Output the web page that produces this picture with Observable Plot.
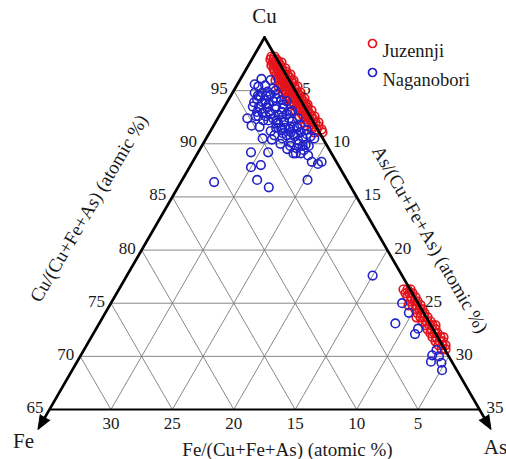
<!DOCTYPE html>
<html><head><meta charset="utf-8">
<script src="https://cdn.jsdelivr.net/npm/d3@7"></script>
<script src="https://cdn.jsdelivr.net/npm/@observablehq/plot@0.6"></script>
<style>body{margin:0;background:#fff;} svg text{font-family:'Liberation Serif','Times New Roman',serif !important;}</style>
</head><body><div id="chart"></div>
<script>
// [Cu, As] in atomic %; Fe = 100 - Cu - As
const juzennji = [
[98.21,1.46],[98.21,1.71],[97.93,1.52],[97.93,1.77],[97.93,2.01],
[97.65,1.83],[97.65,2.07],[97.65,2.32],[97.65,2.56],[97.37,1.88],[97.37,2.13],[97.37,2.37],[97.37,2.61],
[97.09,2.19],[97.09,2.51],[97.09,2.84],[97.09,3.16],[96.80,2.42],[96.80,2.74],[96.80,3.07],[96.80,3.31],
[96.52,2.71],[96.52,3.04],[96.52,3.37],[96.52,3.61],[96.52,3.85],[96.24,2.94],[96.24,3.26],[96.24,3.59],[96.24,3.91],
[95.96,2.92],[95.96,3.24],[95.96,3.57],[95.96,3.89],[95.96,4.22],[95.96,4.38],[95.68,3.46],[95.68,3.78],[95.68,4.11],[95.68,4.43],
[95.39,3.45],[95.39,3.77],[95.39,4.10],[95.39,4.42],[95.39,4.75],[95.39,4.99],[95.11,3.99],[95.11,4.32],[95.11,4.65],[95.11,4.97],
[94.83,4.05],[94.83,4.37],[94.83,4.70],[94.83,5.02],[94.83,5.27],[94.83,5.51],[94.55,4.68],[94.55,5.00],[94.55,5.33],[94.55,5.57],
[94.27,4.66],[94.27,4.98],[94.27,5.31],[94.27,5.63],[94.27,5.88],[94.27,6.12],[93.98,5.29],[93.98,5.61],[93.98,5.94],[93.98,6.18],
[93.70,5.27],[93.70,5.59],[93.70,5.92],[93.70,6.24],[93.70,6.49],[93.70,6.65],[93.42,5.90],[93.42,6.22],[93.42,6.55],[93.42,6.79],
[93.14,5.95],[93.14,6.27],[93.14,6.60],[93.14,6.93],[93.14,7.25],[92.86,6.58],[92.86,6.90],[92.86,7.23],
[92.57,6.57],[92.57,6.89],[92.57,7.22],[92.57,7.54],[92.57,7.79],[92.29,7.20],[92.29,7.52],[92.29,7.85],
[92.01,7.25],[92.01,7.57],[92.01,7.90],[92.01,8.14],[92.01,8.39],[91.63,8.17],[91.63,8.58],
[91.35,8.15],[91.35,8.56],[91.35,8.97],[91.07,8.53],[91.07,9.18],[91.73,7.47],
[76.31,23.16],[76.31,23.49],[76.31,23.73],[75.94,23.51],[75.94,23.83],[75.94,24.08],
[75.56,23.86],[75.56,24.19],[75.56,24.51],[75.18,24.30],[75.18,24.62],[75.18,24.87],
[74.81,24.32],[74.81,24.65],[74.81,24.97],[74.81,25.30],[74.43,25.07],[74.43,25.40],[74.43,25.64],
[74.06,25.42],[74.06,25.74],[74.06,25.99],[73.68,25.53],[73.68,25.86],[73.68,26.18],[73.68,26.43],
[73.30,26.21],[73.30,26.54],[73.30,26.86],[72.93,26.64],[72.93,26.96],[72.93,27.21],[72.93,27.45],
[72.55,26.99],[72.55,27.32],[72.55,27.65],[72.18,27.42],[72.18,27.75],[72.18,27.99],
[71.80,27.78],[71.80,28.10],[71.80,28.43],[71.80,28.67],[71.42,28.21],[71.42,28.54],[71.42,28.78],
[71.05,28.64],[71.05,28.97],[71.05,29.21],[70.67,29.08],[70.67,29.40]
];
const naganobori = [
[95.4,1.8],[95.5,2.3],[95.2,3.1],[94.8,1.8],[94.8,2.4],[94.6,3.2],[94.7,3.7],[94.2,2.3],[94.1,3.0],[94.0,3.7],
[94.1,4.3],[93.5,2.8],[93.4,3.5],[93.3,4.2],[93.4,4.8],[92.9,3.4],[92.8,4.1],[92.7,4.8],[92.8,5.4],[92.0,5.6],
[92.1,6.2],[91.5,5.6],[91.4,6.3],[91.5,6.9],[91.2,4.9],[90.8,6.4],[90.7,7.1],[90.6,7.8],[90.1,7.1],[90.0,7.8],
[89.9,8.4],[89.6,7.8],[89.4,8.5],[94.5,2.9],[94.5,2.4],[93.5,4.2],[93.0,3.9],[91.6,6.3],[90.3,7.6],[91.0,6.0],
[91.5,5.2],[92.2,3.8],[93.0,2.9],[93.5,2.3],[92.4,5.8],[93.0,4.9],[91.1,7.4],[89.8,8.7],[89.1,7.8],[94.0,4.8],
[93.1,5.7],[92.4,6.5],[94.9,2.8],[95.0,3.4],[93.8,3.2],[92.6,3.0],[92.5,5.2],[91.9,5.0],[91.3,5.8],[90.9,6.9],
[91.8,7.0],[91.3,7.8],[90.7,8.4],[90.9,7.2],[91.1,6.6],[91.5,5.9],[92.0,5.1],[92.4,4.5],[92.6,3.8],[92.6,3.2],
[93.7,3.5],[93.9,2.9],[94.3,3.8],[93.7,4.7],[93.0,5.6],[91.6,6.6],[89.8,8.2],[89.5,7.1],[90.0,6.3],[90.8,5.4],
[95.6,1.4],
[86.4,2.7],[85.9,7.4],[86.6,6.1],[86.6,10.2],[87.8,5.0],[88.0,5.7],[89.2,4.3],[89.2,5.7],[92.4,2.4],[91.7,3.1],
[91.6,3.8],[92.2,4.2],[96.1,1.7],[96.0,2.5],[90.5,4.6],[90.4,5.4],[90.5,6.2],[89.8,7.2],[89.1,8.0],[88.9,9.1],
[88.3,9.7],[88.1,10.3],[88.3,10.5],[90.5,8.8],[90.9,8.0],[94.5,2.2],[93.9,2.2],[92.2,4.9],[89.1,8.4],
[77.6,20.0],[75.0,23.7],[74.1,24.7],[73.1,24.1],[72.6,26.2],[72.1,26.2],[70.6,28.7],[70.1,28.6],[70.0,29.2],
[69.5,28.8],[69.4,29.7],[68.7,30.1]
];
const series = ["Juzennji", "Naganobori"];
const colors = ["#e3141c", "#2222c8"];
const cuTicks = [95, 90, 85, 80, 75, 70, 65];
const asTicks = [5, 10, 15, 20, 25, 30, 35];
const feTicks = [30, 25, 20, 15, 10, 5];
const cuGrid = [70, 75, 80, 85, 90, 95];
const asGrid = [5, 10, 15, 20, 25, 30];
const feGrid = [5, 10, 15, 20, 25, 30];
const cuMin = 65;
const span = 100 - cuMin;
const axisTitles = ["Cu/(Cu+Fe+As) (atomic %)", "As/(Cu+Fe+As) (atomic %)", "Fe/(Cu+Fe+As) (atomic %)"];
const vertexLabels = ["Cu", "Fe", "As"];

const S3 = Math.sqrt(3) / 2;
const tx = (cu, as) => as + cu / 2;
const ty = (cu) => cu * S3;

const grid = [
  ...cuGrid.map(c => ({cu1: c, as1: 0, cu2: c, as2: 100 - c})),
  ...asGrid.map(a => ({cu1: 100 - a, as1: a, cu2: cuMin, as2: a})),
  ...feGrid.map(f => ({cu1: 100 - f, as1: 0, cu2: cuMin, as2: span - f}))
];
const linkOpts = {x1: d => tx(d.cu1, d.as1), y1: d => ty(d.cu1), x2: d => tx(d.cu2, d.as2), y2: d => ty(d.cu2)};
const sides = [{cu1: 100, as1: 0, cu2: cuMin, as2: 0}, {cu1: 100, as1: 0, cu2: cuMin, as2: span}];
const bottom = [{cu1: cuMin, as1: 0, cu2: cuMin, as2: span}];
const font = "Liberation Serif";
const T = {fontFamily: font, fill: "#1a1a1a"};

const plot = Plot.plot({
  width: 506, height: 459,
  marginTop: 0, marginRight: 0, marginBottom: 0, marginLeft: 0,
  x: {domain: [tx(cuMin, 0), tx(cuMin, span)], range: [49, 479], axis: null},
  y: {domain: [ty(cuMin), ty(100)], range: [409, 37], axis: null},
  style: {fontFamily: font, background: "#fff", color: "#111"},
  marks: [
    Plot.link(grid, {...linkOpts, stroke: "#7a7a7a", strokeWidth: 0.9}),
    Plot.dot(juzennji, {x: d => tx(d[0], d[1]), y: d => ty(d[0]), r: 4.3, stroke: colors[0], strokeWidth: 1.7, fill: "none"}),
    Plot.dot(naganobori, {x: d => tx(d[0], d[1]), y: d => ty(d[0]), r: 4.3, stroke: colors[1], strokeWidth: 1.6, fill: "none"}),
    Plot.link(bottom, {...linkOpts, stroke: "#000", strokeWidth: 2}),
    Plot.arrow(sides, {...linkOpts, stroke: "#000", strokeWidth: 2.7, headLength: 0, insetEnd: -12}),
    Plot.vector([vertexLabels[1]], {x: () => tx(cuMin, 0), y: () => ty(cuMin), dx: -4.5, dy: 7.8, rotate: 210, length: 14, r: 5.5, shape: "spike", anchor: "start", fill: "#000", fillOpacity: 1, stroke: "#000", strokeWidth: 1}),
    Plot.vector([vertexLabels[2]], {x: () => tx(cuMin, span), y: () => ty(cuMin), dx: 4.5, dy: 7.8, rotate: 150, length: 14, r: 5.5, shape: "spike", anchor: "start", fill: "#000", fillOpacity: 1, stroke: "#000", strokeWidth: 1}),
    Plot.text(cuTicks, {...T, x: c => tx(c, 0), y: c => ty(c), text: c => String(c), textAnchor: "end", dx: -6, dy: -2, fontSize: 17}),
    Plot.text(asTicks, {...T, x: a => tx(100 - a, a), y: a => ty(100 - a), text: a => String(a), textAnchor: "start", dx: 7, dy: -2, fontSize: 17}),
    Plot.text(feTicks, {...T, x: f => tx(cuMin, span - f), y: () => ty(cuMin), text: f => String(f), textAnchor: "middle", dy: 14, fontSize: 17}),
    Plot.text([axisTitles[0]], {...T, x: () => tx(cuMin + span / 2, 0), y: () => ty(cuMin + span / 2), text: d => d, rotate: -59.5, dx: -68, dy: -15, fontSize: 19}),
    Plot.text([axisTitles[1]], {...T, x: () => tx(cuMin + span / 2, span / 2), y: () => ty(cuMin + span / 2), text: d => d, rotate: 60, dx: 58, dy: 16, fontSize: 19}),
    Plot.text([axisTitles[2]], {...T, x: () => tx(cuMin, span / 2), y: () => ty(cuMin), text: d => d, dx: 23, dy: 40, fontSize: 19}),
    Plot.text([vertexLabels[0]], {...T, x: () => tx(100, 0), y: () => ty(100), text: d => d, dy: -21, fontSize: 21}),
    Plot.text([vertexLabels[1]], {...T, x: () => tx(cuMin, 0), y: () => ty(cuMin), text: d => d, dx: -26, dy: 32, fontSize: 21}),
    Plot.text([vertexLabels[2]], {...T, x: () => tx(cuMin, span), y: () => ty(cuMin), text: d => d, dx: 16, dy: 38, fontSize: 21}),
    Plot.dot([series[0]], {frameAnchor: "top-left", dx: 372, dy: 43, r: 4, stroke: colors[0], strokeWidth: 1.7, fill: "none"}),
    Plot.text([series[0]], {...T, frameAnchor: "top-left", dx: 382, dy: 43, text: d => d, textAnchor: "start", fontSize: 18.5}),
    Plot.dot([series[1]], {frameAnchor: "top-left", dx: 372, dy: 72, r: 4, stroke: colors[1], strokeWidth: 1.7, fill: "none"}),
    Plot.text([series[1]], {...T, frameAnchor: "top-left", dx: 382, dy: 72, text: d => d, textAnchor: "start", fontSize: 18.5})
  ]
});
document.getElementById("chart").appendChild(plot);
</script>
</body></html>
